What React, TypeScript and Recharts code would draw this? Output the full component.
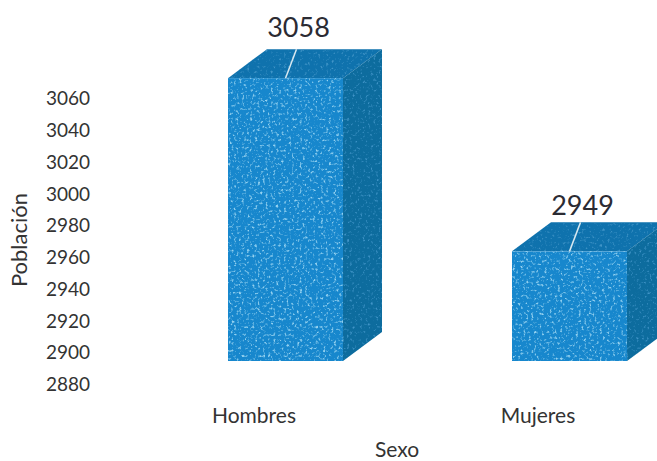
import React from "react";
import { BarChart, Bar, XAxis, YAxis, LabelList } from "recharts";

const categories = ["Hombres", "Mujeres"];
const poblacion = [3058, 2949];
const yTicks = [2880, 2900, 2920, 2940, 2960, 2980, 3000, 3020, 3040, 3060];

const data = categories.map((sexo, i) => ({ sexo, poblacion: poblacion[i] }));

const DEPTH_X = 39;
const DEPTH_Y = 29;
const LABEL_LIFT = [48, 43];

// caja 3D: frente, tapa, lateral y la linea guia blanca hacia la etiqueta
function Box3D(props: any) {
  const { x, y, width, height } = props;
  const right = x + width;
  const bottom = y + height;
  return (
    <g>
      <polygon
        points={`${x},${y} ${x + DEPTH_X},${y - DEPTH_Y} ${right + DEPTH_X},${y - DEPTH_Y} ${right},${y}`}
        fill="#0f72ad"
        filter="url(#speckleDark)"
      />
      <polygon
        points={`${right},${y} ${right + DEPTH_X},${y - DEPTH_Y} ${right + DEPTH_X},${bottom - DEPTH_Y} ${right},${bottom}`}
        fill="#0d6c9e"
        filter="url(#speckleDark)"
      />
      <rect x={x} y={y} width={width} height={height} fill="#1787cd" filter="url(#speckle)" />
      <line
        x1={x + width / 2}
        y1={y}
        x2={x + width / 2 + 11}
        y2={y - DEPTH_Y}
        stroke="#d8e8f0"
        strokeWidth={1.5}
      />
    </g>
  );
}

function TopLabel(props: any) {
  const { x, y, width, value, index } = props;
  return (
    <text
      x={x + width / 2 + 13}
      y={y - LABEL_LIFT[index]}
      textAnchor="middle"
      dominantBaseline="middle"
      fontSize={27}
      fill="#2b2b33"
      fontFamily="Lato"
    >
      {value}
    </text>
  );
}

export default function App() {
  return (
    <div style={{ width: 657, height: 461, overflow: "hidden", background: "#fff" }}>
      <style>{"html,body{margin:0}"}</style>
      <BarChart
        width={711}
        height={461}
        data={data}
        margin={{ top: 75, right: 0, left: 0, bottom: 0 }}
        style={{ fontFamily: "Lato" }}
      >
        <defs>
          <filter id="speckle" x="0" y="0" width="100%" height="100%" colorInterpolationFilters="sRGB">
            <feTurbulence type="fractalNoise" baseFrequency="0.38" numOctaves="2" seed="4" result="n" />
            <feColorMatrix
              in="n"
              type="matrix"
              values="0 0 0 0 0.58  0 0 0 0 0.82  0 0 0 0 0.94  4 0 0 0 -2.2"
            />
            <feGaussianBlur stdDeviation="0.6" result="s" />
            <feMerge>
              <feMergeNode in="SourceGraphic" />
              <feMergeNode in="s" />
            </feMerge>
          </filter>
          <filter id="speckleDark" x="0" y="0" width="100%" height="100%" colorInterpolationFilters="sRGB">
            <feTurbulence type="fractalNoise" baseFrequency="0.38" numOctaves="2" seed="9" result="n" />
            <feColorMatrix
              in="n"
              type="matrix"
              values="0 0 0 0 0.25  0 0 0 0 0.58  0 0 0 0 0.78  4 0 0 0 -2.3"
            />
            <feGaussianBlur stdDeviation="0.6" result="s" />
            <feComposite in="s" in2="SourceGraphic" operator="in" result="c" />
            <feMerge>
              <feMergeNode in="SourceGraphic" />
              <feMergeNode in="c" />
            </feMerge>
          </filter>
        </defs>
        <XAxis
          dataKey="sexo"
          height={100}
          axisLine={false}
          tickLine={false}
          tick={{ fontSize: 21, fill: "#333", dx: -31 }}
          tickMargin={41}
        />
        <YAxis
          width={143}
          domain={[2880, 3060]}
          ticks={yTicks}
          interval={0}
          axisLine={false}
          tickLine={false}
          tick={{ fontSize: 19, fill: "#333", dy: 23.5 }}
          tickMargin={47}
          label={{ value: "Población", angle: -90, position: "insideLeft", offset: 0, dx: 19, dy: 22, fontSize: 22, fill: "#333", style: { textAnchor: "middle" } }}
        />
        <text x={397} y={452} textAnchor="middle" dominantBaseline="middle" fontSize={21} fill="#333">
          Sexo
        </text>
        <Bar dataKey="poblacion" barSize={115} shape={Box3D} isAnimationActive={false}>
          <LabelList dataKey="poblacion" content={TopLabel} />
        </Bar>
      </BarChart>
    </div>
  );
}
